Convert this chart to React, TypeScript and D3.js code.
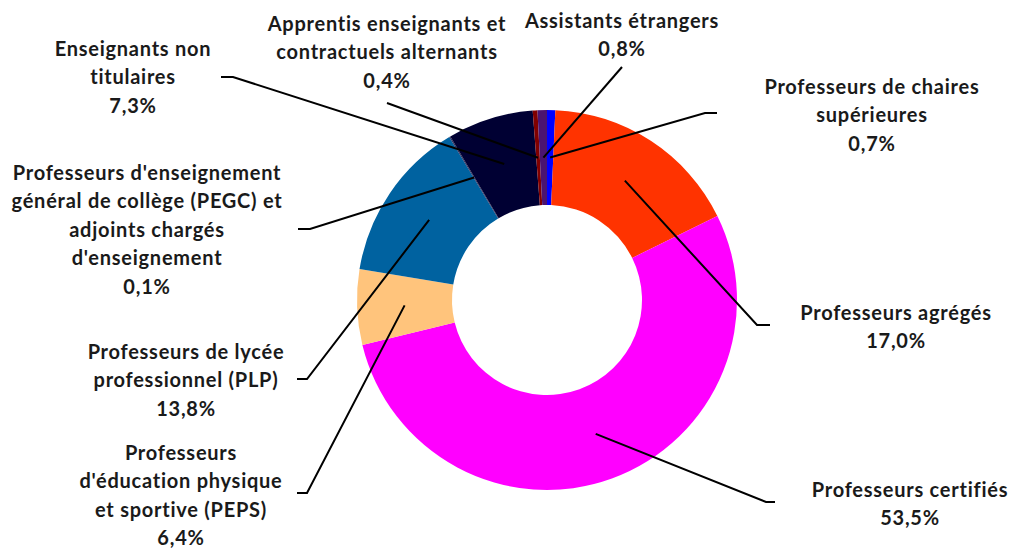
import React from "react";
import * as d3 from "d3";

// ---- data ----
const categories: string[] = [
  "Professeurs de chaires supérieures",
  "Professeurs agrégés",
  "Professeurs certifiés",
  "Professeurs d'éducation physique et sportive (PEPS)",
  "Professeurs de lycée professionnel (PLP)",
  "Professeurs d'enseignement général de collège (PEGC) et adjoints chargés d'enseignement",
  "Enseignants non titulaires",
  "Apprentis enseignants et contractuels alternants",
  "Assistants étrangers",
];
const values: number[] = [0.7, 17.0, 53.5, 6.4, 13.8, 0.1, 7.3, 0.4, 0.8];
const valueLabels: string[] = ["0,7%", "17,0%", "53,5%", "6,4%", "13,8%", "0,1%", "7,3%", "0,4%", "0,8%"];
const labelLines: string[][] = [
  ["Professeurs de chaires", "supérieures"],
  ["Professeurs agrégés"],
  ["Professeurs certifiés"],
  ["Professeurs", "d'éducation physique", "et sportive (PEPS)"],
  ["Professeurs de lycée", "professionnel (PLP)"],
  ["Professeurs d'enseignement", "général de collège (PEGC) et", "adjoints chargés", "d'enseignement"],
  ["Enseignants non", "titulaires"],
  ["Apprentis enseignants et", "contractuels alternants"],
  ["Assistants étrangers"],
];

// ---- styles / layout ----
const colors = ["#0000FF", "#FF3300", "#FF00FF", "#FFC47C", "#0062A0", "#2A2A5A", "#000033", "#800000", "#4B1470"];
const W = 1011, H = 548;
const cx = 547, cy = 300, R = 190, r0 = 95;
const lineH = 28.5;
// label text centre x, first-line centre y; leader start and optional kink
const layout = [
  { x: 872, y: 87, start: [717, 113], kink: [705, 113] },
  { x: 896, y: 313, start: [770, 325], kink: [757, 325] },
  { x: 910, y: 490, start: [775, 502], kink: [766, 502] },
  { x: 181, y: 453, start: [297, 493], kink: [307, 493] },
  { x: 186, y: 352, start: [297, 379], kink: [307, 379] },
  { x: 147, y: 173, start: [298, 229], kink: [310, 229] },
  { x: 133, y: 49, start: [221, 77], kink: [233, 77] },
  { x: 387, y: 24, start: [387, 103], kink: null },
  { x: 622, y: 21, start: [622, 67], kink: null },
];

export default function App() {
  const pie = d3.pie<number>().sort(null).value((d) => d).startAngle(0).endAngle(2 * Math.PI);
  const arcs = pie(values);
  const arc = d3.arc<d3.PieArcDatum<number>>().innerRadius(r0).outerRadius(R);
  const line = d3.line();
  return (
    <svg width={W} height={H} style={{ position: "absolute", left: 0, top: 0, background: "#fff" }}
      fontFamily="Lato, 'Open Sans', sans-serif" fontWeight="bold">
      <g transform={`translate(${cx},${cy})`}>
        {arcs.map((a, i) => (
          <path key={i} d={arc(a) || ""} fill={colors[i]} />
        ))}
      </g>
      {arcs.map((a, i) => {
        const [px, py] = arc.centroid(a);
        const L = layout[i];
        const pts: [number, number][] = [L.start as [number, number]];
        if (L.kink) pts.push(L.kink as [number, number]);
        pts.push([px + cx, py + cy]);
        return <path key={"l" + i} d={line(pts) || ""} fill="none" stroke="#000" strokeWidth={2} />;
      })}
      {labelLines.map((lines, i) => {
        const L = layout[i];
        const all = [...lines, valueLabels[i]];
        return (
          <text key={"t" + i} textAnchor="middle" fontSize={20} letterSpacing={0.75} fill="#1a1a1a">
            {all.map((s, j) => (
              <tspan key={j} x={L.x} y={L.y + j * lineH} dy="0.34em">{s}</tspan>
            ))}
          </text>
        );
      })}
    </svg>
  );
}
